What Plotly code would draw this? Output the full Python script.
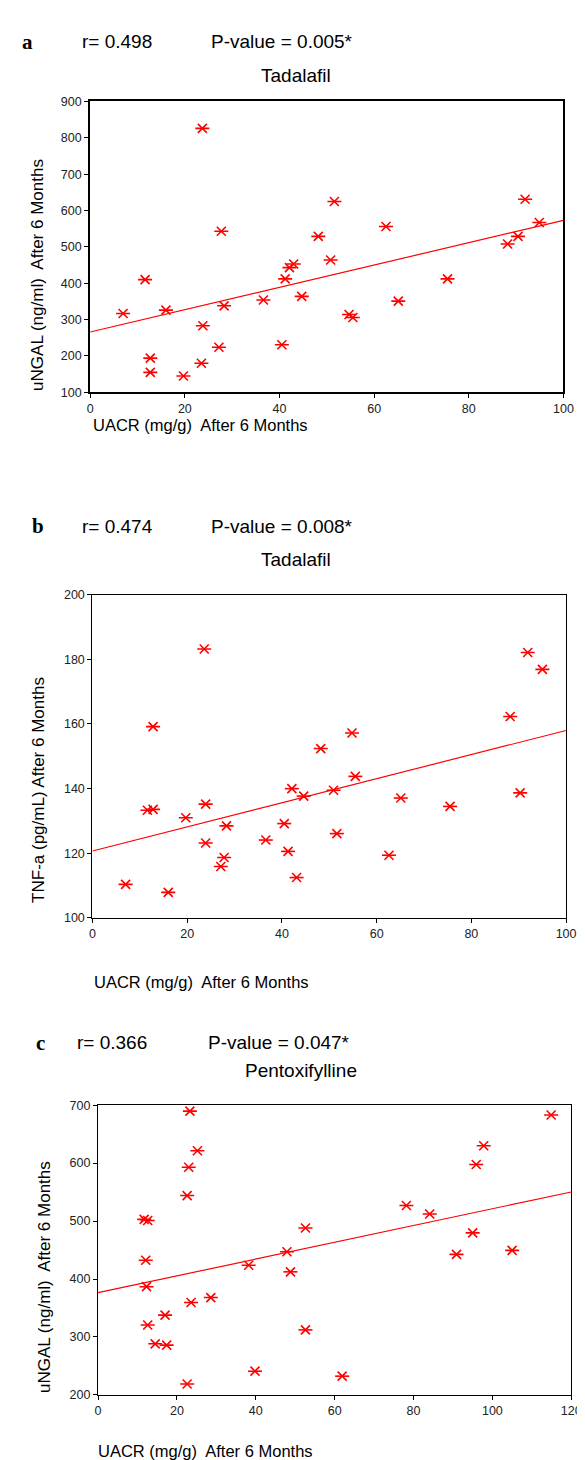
import plotly.graph_objects as go

W, H = 585, 1460

# ---------------- data ----------------
# Panel a : UACR vs uNGAL (Tadalafil)
uacr_a = [23.7, 6.95, 11.6, 16.0, 12.7, 12.7, 19.7, 23.5, 23.8, 27.2,
          27.7, 28.3, 36.6, 40.5, 41.2, 42.1, 43.0, 44.7, 48.2, 50.8,
          51.6, 54.7, 55.5, 62.5, 65.1, 75.5, 88.2, 90.4, 91.9, 94.9]
ungal_a = [826, 317, 410, 326, 194, 155, 145, 180, 283, 224,
           543, 338, 354, 231, 412, 443, 453, 364, 529, 464,
           625, 314, 306, 556, 351, 412, 508, 529, 631, 567]
fit_a_x = [0, 100]
fit_a_y = [266, 573]

# Panel b : UACR vs TNF-a (Tadalafil)
uacr_b = [23.6, 12.8, 11.6, 12.8, 7.0, 16.0, 19.7, 23.9, 23.9, 27.1,
          27.8, 28.3, 36.6, 40.5, 41.3, 42.1, 43.1, 44.6, 48.2, 50.9,
          51.6, 54.8, 55.5, 62.6, 65.1, 75.5, 88.2, 90.3, 91.9, 95.0]
tnf_b = [183.2, 159.2, 133.3, 133.6, 110.4, 107.9, 131.0, 135.2, 123.2, 115.9,
         118.7, 128.5, 124.1, 129.2, 120.6, 140.0, 112.5, 137.7, 152.4, 139.5,
         126.1, 157.2, 143.8, 119.4, 137.1, 134.5, 162.3, 138.7, 182.1, 176.9]
fit_b_x = [0, 100]
fit_b_y = [120.7, 158.0]

# Panel c : UACR vs uNGAL (Pentoxifylline)
uacr_c = [23.3, 114.9, 97.8, 25.2, 95.9, 23.0, 22.6, 78.2, 84.1, 11.7,
          12.6, 52.6, 95.0, 105.0, 47.9, 90.9, 12.1, 38.2, 48.8, 12.3,
          28.6, 23.6, 17.0, 12.6, 52.6, 14.5, 17.4, 39.8, 61.9, 22.6]
ungal_c = [689.7, 682.9, 630.0, 621.4, 597.5, 592.9, 544.0, 526.9, 512.1, 503.0,
           501.0, 488.0, 479.6, 449.4, 447.1, 442.6, 432.3, 423.8, 412.4, 386.8,
           368.0, 359.4, 337.8, 320.7, 312.2, 288.2, 286.0, 241.0, 232.4, 218.8]
fit_c_x = [0, 120]
fit_c_y = [376.5, 550.2]

letters = ["a", "b", "c"]
r_texts = ["r= 0.498", "r= 0.474", "r= 0.366"]
p_texts = ["P-value = 0.005*", "P-value = 0.008*", "P-value = 0.047*"]
drug_titles = ["Tadalafil", "Tadalafil", "Pentoxifylline"]
y_titles = ["uNGAL (ng/ml)  After 6 Months", "TNF-a (pg/mL) After 6 Months",
            "uNGAL (ng/ml)  After 6 Months"]
x_title = "UACR (mg/g)  After 6 Months"

# ---------------- layout helpers ----------------
def px(x):
    return x / W

def py(y):
    return 1 - y / H

RED = "#ff0000"
FONT = "Liberation Sans, Arial, sans-serif"
SERIF = "Liberation Serif, Times New Roman, serif"

panels = [
    dict(xs=uacr_a, ys=ungal_a, fx=fit_a_x, fy=fit_a_y,
         box=(81, 565, 87.3, 381), xr=[0, 100], yr=[100, 900], dy=100, lw=2,
         letter=(17, 27), rt=(71, 27), pt=(203, 27), tt=(291, 61.5),
         yt=(27, 262), xt=(82, 414)),
    dict(xs=uacr_b, ys=tnf_b, fx=fit_b_x, fy=fit_b_y,
         box=(83.3, 567.7, 585.3, 911.7), xr=[0, 100], yr=[100, 200], dy=20, lw=1.3,
         letter=(28, 516), rt=(71, 516.5), pt=(203, 516.5), tt=(291, 550),
         yt=(28, 782), xt=(83, 976)),
    dict(xs=uacr_c, ys=ungal_c, fx=fit_c_x, fy=fit_c_y,
         box=(89, 573, 1100.7, 1393.3), xr=[0, 120], yr=[200, 700], dy=100, lw=1.3,
         letter=(30, 1038), rt=(65, 1037), pt=(199, 1037), tt=(296.5, 1065.5),
         yt=(35, 1274), xt=(87, 1450)),
]

fig = go.Figure()
annotations = []

for i, p in enumerate(panels):
    xa = "x" if i == 0 else f"x{i+1}"
    ya = "y" if i == 0 else f"y{i+1}"
    # regression line
    fig.add_trace(go.Scatter(x=p["fx"], y=p["fy"], mode="lines",
                             line=dict(color=RED, width=1.2),
                             xaxis=xa, yaxis=ya, showlegend=False, hoverinfo="skip"))
    # asterisk markers: x + horizontal bar
    fig.add_trace(go.Scatter(x=p["xs"], y=p["ys"], mode="markers",
                             marker=dict(symbol="x-thin-open", size=9, color=RED,
                                         line=dict(color=RED, width=1.6)),
                             xaxis=xa, yaxis=ya, showlegend=False))
    fig.add_trace(go.Scatter(x=p["xs"], y=p["ys"], mode="markers",
                             marker=dict(symbol="line-ew-open", size=10, color=RED,
                                         line=dict(color=RED, width=1.6)),
                             xaxis=xa, yaxis=ya, showlegend=False, hoverinfo="skip"))

    x0, x1, y0, y1 = p["box"]
    axis_common = dict(showline=True, mirror=True, linecolor="black",
                       linewidth=p["lw"], ticks="outside", ticklen=4,
                       tickcolor="black", tickwidth=1, showgrid=False,
                       zeroline=False, tickfont=dict(family=FONT, size=12.5, color="#222"))
    fig.layout[("xaxis" if i == 0 else f"xaxis{i+1}")] = dict(
        domain=[px(x0), px(x1)], range=p["xr"], dtick=20, tick0=0,
        anchor=ya, **axis_common)
    fig.layout[("yaxis" if i == 0 else f"yaxis{i+1}")] = dict(
        domain=[py(y1), py(y0)], range=p["yr"], dtick=p["dy"], tick0=0,
        anchor=xa, **axis_common)

    annotations += [
        dict(text=f"<b>{letters[i]}</b>", x=px(p["letter"][0]), y=py(p["letter"][1]),
             xanchor="center", yanchor="middle",
             font=dict(family=SERIF, size=21, color="black")),
        dict(text=r_texts[i], x=px(p["rt"][0]), y=py(p["rt"][1]),
             xanchor="left", yanchor="middle",
             font=dict(family=FONT, size=19, color="black")),
        dict(text=p_texts[i], x=px(p["pt"][0]), y=py(p["pt"][1]),
             xanchor="left", yanchor="middle",
             font=dict(family=FONT, size=19, color="black")),
        dict(text=drug_titles[i], x=px(p["tt"][0]), y=py(p["tt"][1]),
             xanchor="center", yanchor="middle",
             font=dict(family=FONT, size=19, color="black")),
        dict(text=y_titles[i], x=px(p["yt"][0]), y=py(p["yt"][1]),
             xanchor="center", yanchor="middle", textangle=-90,
             font=dict(family=FONT, size=17, color="black")),
        dict(text=x_title, x=px(p["xt"][0]), y=py(p["xt"][1]),
             xanchor="left", yanchor="middle",
             font=dict(family=FONT, size=16.5, color="black")),
    ]

for a in annotations:
    a.update(xref="paper", yref="paper", showarrow=False)

fig.update_layout(width=W, height=H, margin=dict(l=0, r=0, t=0, b=0),
                  paper_bgcolor="white", plot_bgcolor="white",
                  annotations=annotations, showlegend=False)

fig.write_html("out.html")
